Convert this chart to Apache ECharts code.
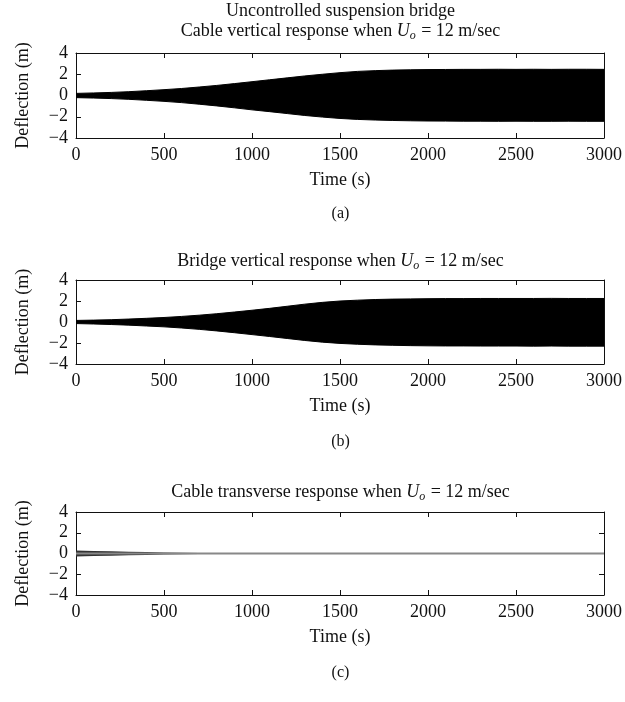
<!DOCTYPE html>
<html>
<head>
<meta charset="utf-8">
<script src="https://cdn.jsdelivr.net/npm/echarts@6/dist/echarts.min.js"></script>
<style>
  html, body { margin: 0; padding: 0; background: #fff; }
  #chart { width: 625px; height: 702px; }
</style>
</head>
<body>
<div id="chart"></div>
<script>
// time samples (s) for the response envelopes
const times = [0, 100, 200, 300, 400, 500, 600, 700, 800, 900, 1000,
  1100, 1200, 1300, 1400, 1500, 1600, 1700, 1800, 1900, 2000,
  2100, 2200, 2300, 2400, 2500, 2600, 2700, 2800, 2900, 3000];

// (a) cable vertical, upper / lower envelope (m)
const cableVertUpper = [0.2, 0.24, 0.29, 0.36, 0.45, 0.55, 0.66, 0.8, 0.95, 1.12, 1.3,
  1.48, 1.66, 1.84, 2.0, 2.15, 2.27, 2.34, 2.39, 2.42, 2.44,
  2.45, 2.46, 2.46, 2.47, 2.46, 2.47, 2.46, 2.47, 2.47, 2.46];
const cableVertLower = [-0.2, -0.24, -0.29, -0.36, -0.45, -0.55, -0.67, -0.82, -0.98, -1.16, -1.35,
  -1.52, -1.7, -1.88, -2.03, -2.16, -2.25, -2.31, -2.35, -2.38, -2.4,
  -2.41, -2.42, -2.42, -2.43, -2.42, -2.43, -2.43, -2.42, -2.43, -2.43];

// (b) bridge vertical
const bridgeVertUpper = [0.15, 0.18, 0.22, 0.28, 0.35, 0.43, 0.53, 0.65, 0.79, 0.95, 1.12,
  1.3, 1.5, 1.7, 1.87, 2.0, 2.08, 2.14, 2.18, 2.2, 2.22,
  2.23, 2.23, 2.24, 2.24, 2.24, 2.24, 2.25, 2.24, 2.24, 2.24];
const bridgeVertLower = [-0.15, -0.19, -0.24, -0.3, -0.38, -0.46, -0.57, -0.7, -0.85, -1.02, -1.2,
  -1.38, -1.57, -1.76, -1.92, -2.04, -2.12, -2.18, -2.22, -2.25, -2.27,
  -2.28, -2.28, -2.29, -2.29, -2.29, -2.3, -2.29, -2.3, -2.3, -2.3];

// (c) cable transverse
const cableTransUpper = [0.28, 0.25, 0.22, 0.18, 0.14, 0.1, 0.07, 0.05, 0.04, 0.03, 0.03,
  0.02, 0.02, 0.02, 0.02, 0.02, 0.02, 0.02, 0.02, 0.02, 0.02,
  0.02, 0.02, 0.02, 0.02, 0.02, 0.02, 0.02, 0.02, 0.02, 0.02];
const cableTransLower = [-0.28, -0.25, -0.22, -0.18, -0.14, -0.1, -0.07, -0.05, -0.04, -0.03, -0.03,
  -0.02, -0.02, -0.02, -0.02, -0.02, -0.02, -0.02, -0.02, -0.02, -0.02,
  -0.02, -0.02, -0.02, -0.02, -0.02, -0.02, -0.02, -0.02, -0.02, -0.02];

const panelTitles = ['Cable vertical response', 'Bridge vertical response', 'Cable transverse response'];
const panelTags = ['(a)', '(b)', '(c)'];

const FONT = 'Liberation Serif';
const INK = '#111';
const FS = 18;

const panels = [
  { top: 53, height: 85, upper: cableVertUpper, lower: cableVertLower, titleY: 31, tagY: 214, fill: '#000', edge: 1, mid: '#000' },
  { top: 280, height: 84, upper: bridgeVertUpper, lower: bridgeVertLower, titleY: 261, tagY: 442, fill: '#000', edge: 1, mid: '#000' },
  { top: 512, height: 83, upper: cableTransUpper, lower: cableTransLower, titleY: 492, tagY: 673, fill: '#333', edge: 0, mid: '#888' }
];

const grid = [], xAxis = [], yAxis = [], series = [], graphic = [];
const plotCenter = (76 + 605) / 2;

const tick = { show: true, inside: true, length: 5, lineStyle: { color: INK } };
const line = { show: true, onZero: false, lineStyle: { color: INK, width: 1 } };

panels.forEach((p, i) => {
  grid.push({ left: 76, right: 20, top: p.top, height: p.height });

  // bottom axis with labels, top axis just for the box and ticks
  xAxis.push({
    type: 'value', gridIndex: i, position: 'bottom', min: 0, max: 3000, interval: 500,
    axisLine: line, axisTick: tick, splitLine: { show: false },
    axisLabel: { fontFamily: FONT, fontSize: FS, color: INK, margin: 8, formatter: v => String(v) },
    name: 'Time (s)', nameLocation: 'middle', nameGap: 33,
    nameTextStyle: { fontFamily: FONT, fontSize: FS, color: INK }
  });
  xAxis.push({
    type: 'value', gridIndex: i, position: 'top', min: 0, max: 3000, interval: 500,
    axisLine: line, axisTick: tick, axisLabel: { show: false }, splitLine: { show: false }
  });

  yAxis.push({
    type: 'value', gridIndex: i, position: 'left', min: -4, max: 4, interval: 2,
    axisLine: line, axisTick: tick, splitLine: { show: false },
    axisLabel: {
      fontFamily: FONT, fontSize: FS, color: INK, margin: 8,
      formatter: v => String(v).replace('-', '\u2212')
    },
    name: 'Deflection (m)', nameLocation: 'middle', nameGap: 44,
    nameTextStyle: { fontFamily: FONT, fontSize: FS, color: INK }
  });
  yAxis.push({
    type: 'value', gridIndex: i, position: 'right', min: -4, max: 4, interval: 2,
    axisLine: line, axisTick: tick, axisLabel: { show: false }, splitLine: { show: false }
  });

  const env = (vals) => ({
    type: 'line', xAxisIndex: i * 2, yAxisIndex: i * 2,
    data: times.map((t, k) => [t, vals[k]]),
    showSymbol: false, silent: true,
    lineStyle: { color: p.fill, width: p.edge },
    areaStyle: { color: p.fill, opacity: 1 }
  });
  series.push(env(p.upper));
  series.push(env(p.lower));
  // centre line: hides the seam between the two fills, and in (c)
  // it is the grey trace left once the oscillation has died out
  series.push({
    type: 'line', xAxisIndex: i * 2, yAxisIndex: i * 2,
    data: [[times[0], 0], [times[times.length - 1], 0]],
    showSymbol: false, silent: true,
    lineStyle: { color: p.mid, width: 2 }
  });

  graphic.push({
    type: 'text', x: plotCenter, y: p.titleY,
    style: {
      text: '{n|' + panelTitles[i] + ' when }{i|U}{s|o}{n| = 12 m/sec}',
      align: 'center', verticalAlign: 'middle',
      rich: {
        n: { fontFamily: FONT, fontSize: FS, fill: INK },
        i: { fontFamily: FONT, fontSize: FS, fontStyle: 'italic', fill: INK },
        s: { fontFamily: FONT, fontSize: 12, fontStyle: 'italic', fill: INK, padding: [9, 1, 0, 0] }
      }
    }
  });
  graphic.push({
    type: 'text', x: plotCenter, y: p.tagY,
    style: { text: panelTags[i], align: 'center', verticalAlign: 'middle',
      fontFamily: FONT, fontSize: 16, fill: INK }
  });
});

graphic.push({
  type: 'text', x: plotCenter, y: 11,
  style: { text: 'Uncontrolled suspension bridge', align: 'center', verticalAlign: 'middle',
    fontFamily: FONT, fontSize: FS, fill: INK }
});

const myChart = echarts.init(document.getElementById('chart'), null, { renderer: 'canvas' });
const option = {
  backgroundColor: '#fff',
  animation: false,
  grid, xAxis, yAxis, series, graphic
};
option && myChart.setOption(option);
</script>
</body>
</html>
